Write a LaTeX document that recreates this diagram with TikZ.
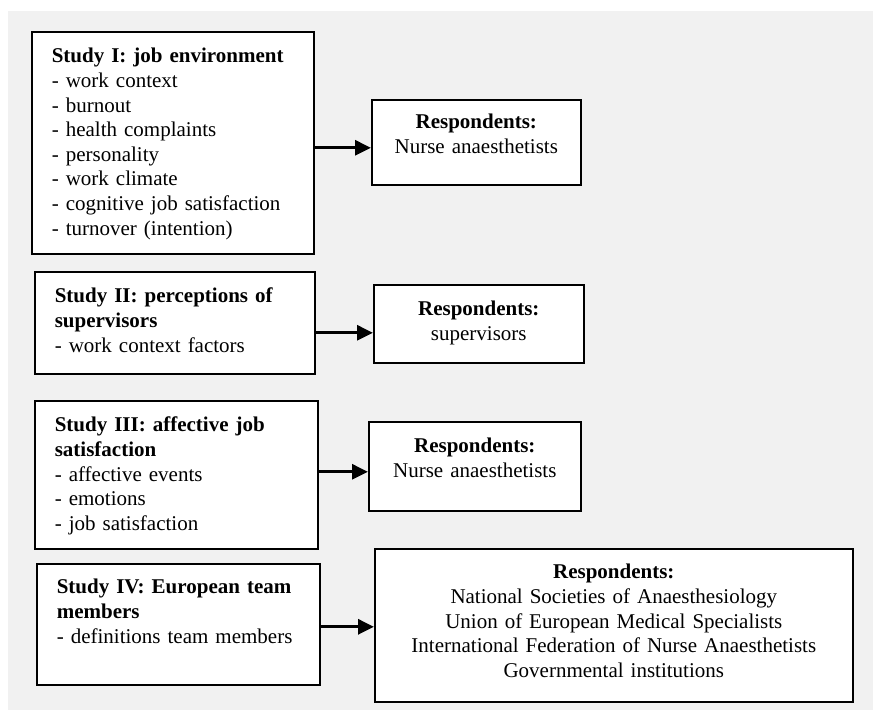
\documentclass[tikz,border=0pt]{standalone}
\usepackage{fontspec}
\setmainfont{Liberation Serif}
\usetikzlibrary{arrows.meta}
\definecolor{bggray}{RGB}{241,241,241}

\tikzset{
  study/.style = {draw, line width=1.6pt, fill=white, anchor=north west, align=left, inner xsep=20pt, inner ysep=0pt},
  resp/.style = {draw, line width=1.6pt, fill=white, anchor=north west, align=center, inner sep=0pt},
  link/.style = {line width=3pt, -{Triangle[length=16pt,width=15pt]}}
}

\begin{document}
\begin{tikzpicture}[x=1pt, y=-1pt, font={\fontsize{21}{24.6}\selectfont}]
\useasboundingbox (0,0) rectangle (873,710);
\fill[bggray] (8,11) rectangle (873,710);
% studies
\node[study, text width=242pt, text height=31pt, text depth=191pt] (s1) at (31,31)
  {\textbf{Study I: job environment}\\- work context\\- burnout\\- health complaints\\- personality\\- work climate\\- cognitive job satisfaction\\- turnover (intention)};
\node[study, text width=240pt, text height=31pt, text depth=71pt] (s2) at (34,271)
  {\textbf{Study II: perceptions of}\\\textbf{supervisors}\\- work context factors};
\node[study, text width=243pt, text height=31pt, text depth=117pt] (s3) at (34,400)
  {\textbf{Study III: affective job}\\\textbf{satisfaction}\\- affective events\\- emotions\\- job satisfaction};
\node[study, text width=243pt, text height=30pt, text depth=91pt] (s4) at (36,563)
  {\textbf{Study IV: European team}\\\textbf{members}\\- definitions team members};
% respondents
\node[resp, text width=209pt, text height=29pt, text depth=56pt] (r1) at (371,99)
  {\textbf{Respondents:}\\Nurse anaesthetists};
\node[resp, text width=210pt, text height=31pt, text depth=47pt] (r2) at (373,284)
  {\textbf{Respondents:}\\supervisors};
\node[resp, text width=212pt, text height=31pt, text depth=58pt] (r3) at (368,421)
  {\textbf{Respondents:}\\Nurse anaesthetists};
\node[resp, text width=478pt, text height=30pt, text depth=123pt] (r4) at (374,548)
  {\textbf{Respondents:}\\National Societies of Anaesthesiology\\Union of European Medical Specialists\\International Federation of Nurse Anaesthetists\\Governmental institutions};
% arrows
\draw[link] ([yshift=-5pt]s1.east) -- ([yshift=-5pt]s1.east -| r1.west);
\draw[link] ([yshift=-10pt]s2.east) -- ([yshift=-10pt]s2.east -| r2.west);
\draw[link] ([yshift=3pt]s3.east) -- ([yshift=3pt]s3.east -| r3.west);
\draw[link] ([yshift=-2.5pt]s4.east) -- ([yshift=-2.5pt]s4.east -| r4.west);
\end{tikzpicture}
\end{document}
